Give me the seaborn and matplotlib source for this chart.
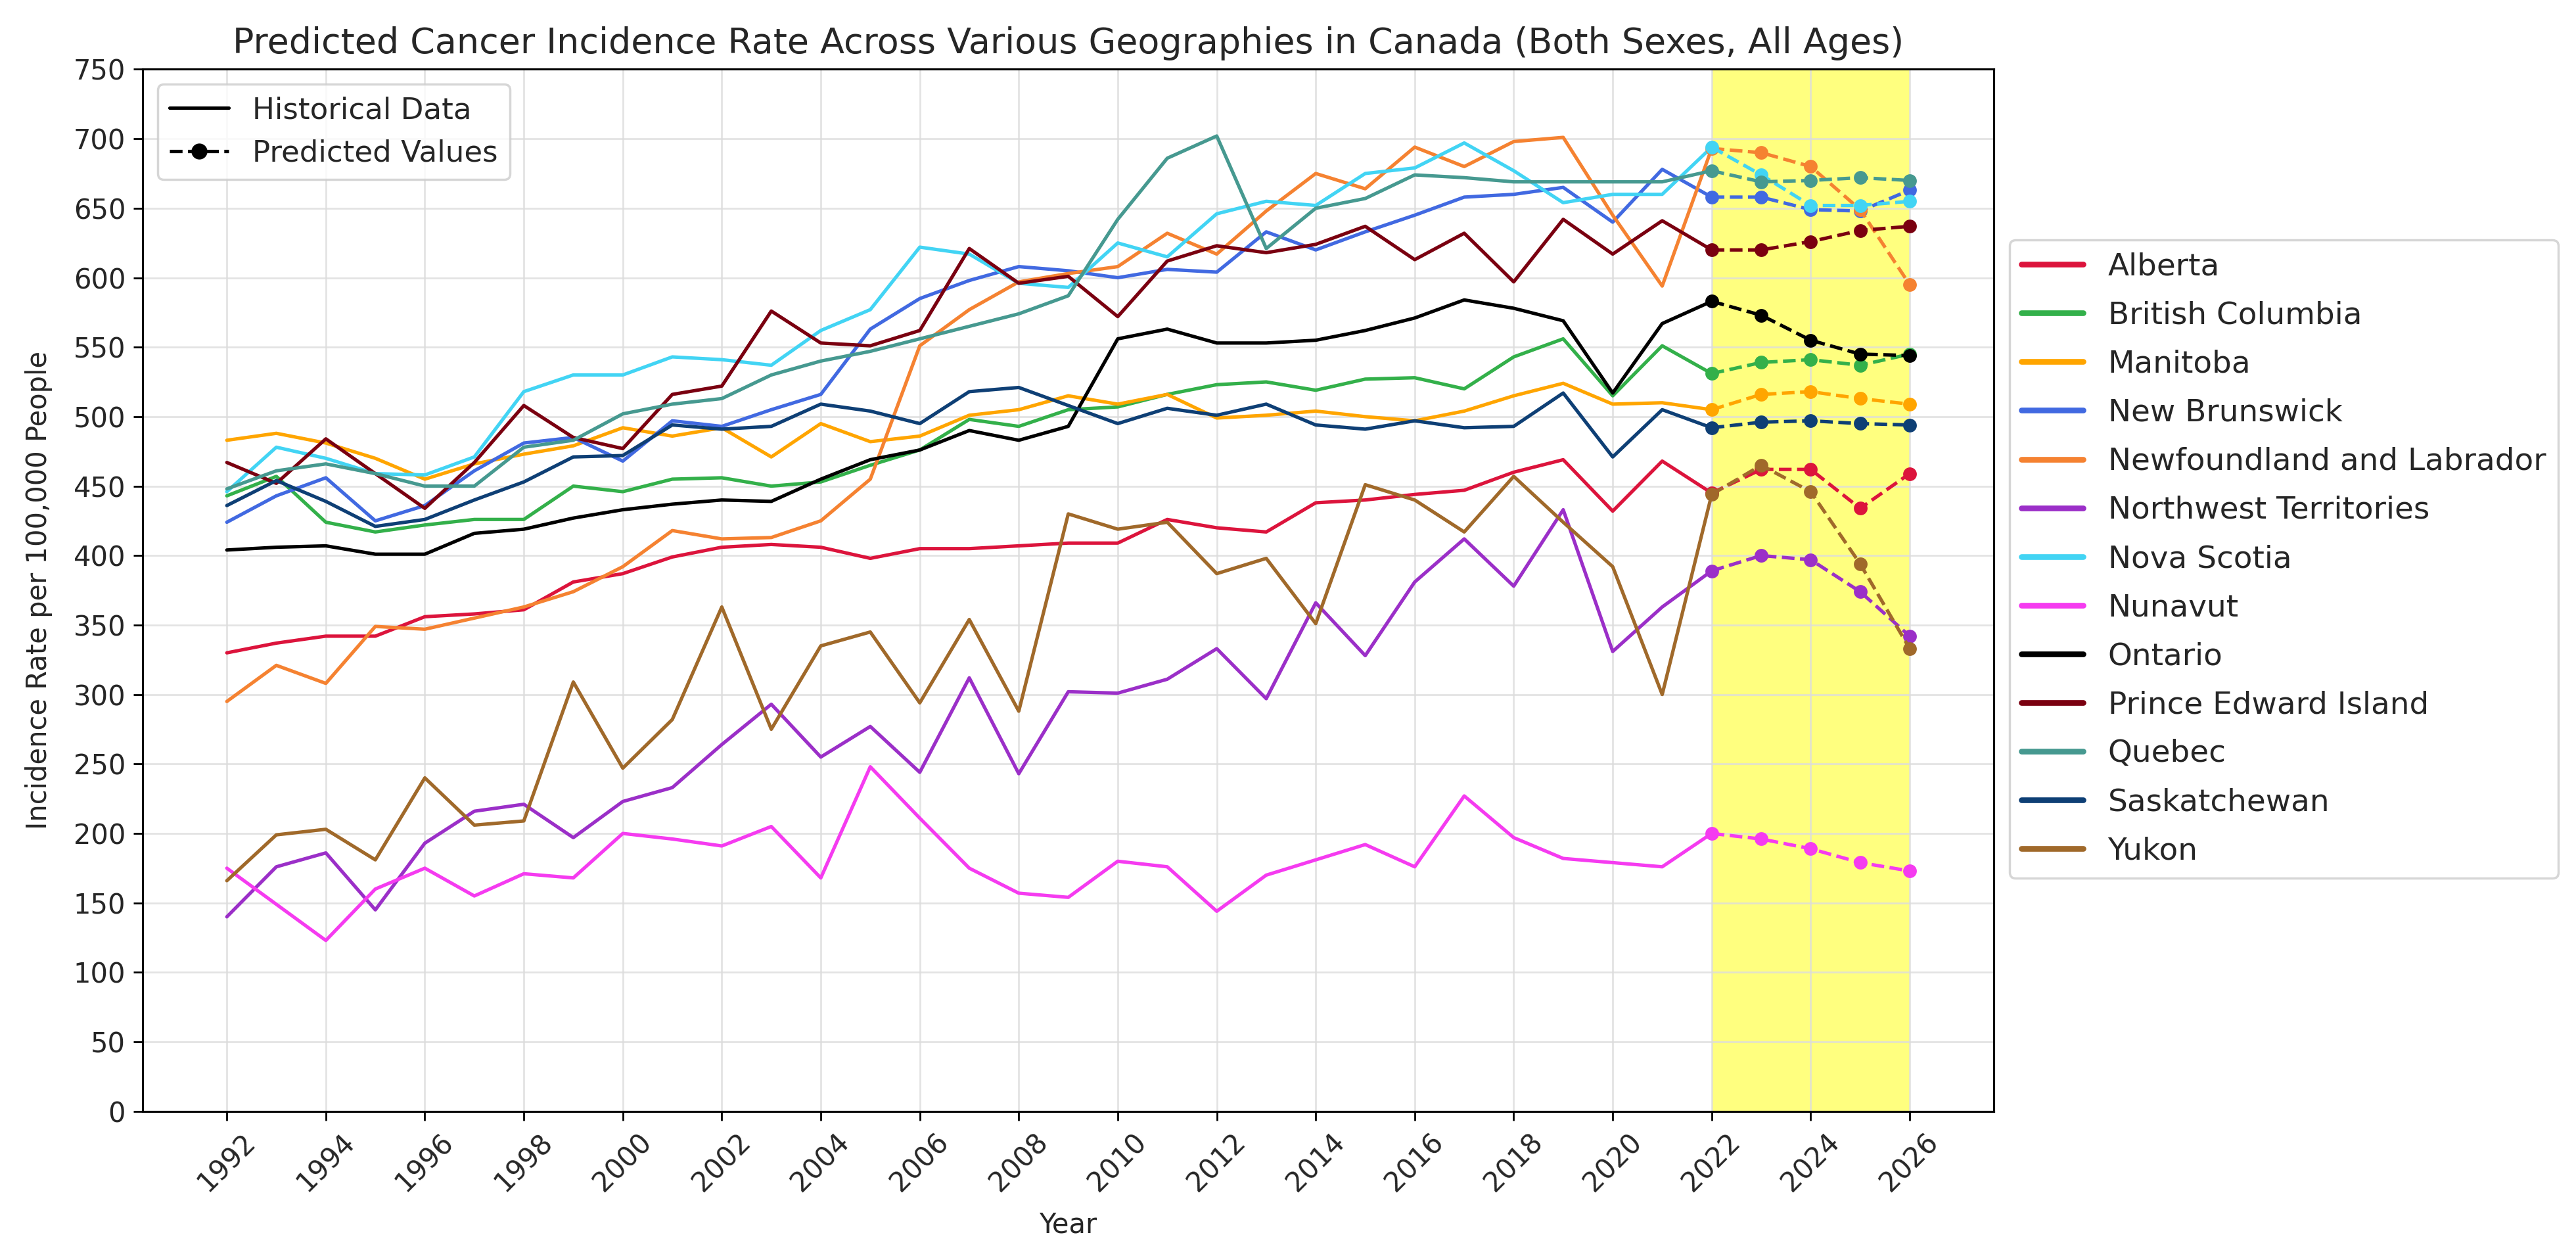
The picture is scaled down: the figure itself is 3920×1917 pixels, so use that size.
import numpy as np
import pandas as pd
import matplotlib
matplotlib.use("Agg")
import matplotlib.pyplot as plt
from matplotlib.lines import Line2D
import seaborn as sns

regions = ["Alberta", "British Columbia", "Manitoba", "New Brunswick",
           "Newfoundland and Labrador", "Northwest Territories", "Nova Scotia",
           "Nunavut", "Ontario", "Prince Edward Island", "Quebec",
           "Saskatchewan", "Yukon"]

colors = ["#DC143C", "#33B04A", "#FFA500", "#4169E1", "#F58231", "#9B2FC8",
          "#42D4F4", "#F53BF0", "#000000", "#7A0010", "#469990", "#0E3F75",
          "#A0692A"]

hist_years = list(range(1992, 2023))
pred_years = list(range(2022, 2027))

alberta = [330, 337, 342, 342, 356, 358, 361, 381, 387, 399, 406, 408, 406, 398, 405, 405,
           407, 409, 409, 426, 420, 417, 438, 440, 444, 447, 460, 469, 432, 468, 445]
british_columbia = [443, 457, 424, 417, 422, 426, 426, 450, 446, 455, 456, 450, 453, 465, 476, 498,
                    493, 505, 507, 516, 523, 525, 519, 527, 528, 520, 543, 556, 515, 551, 531]
manitoba = [483, 488, 481, 470, 455, 466, 473, 479, 492, 486, 492, 471, 495, 482, 486, 501,
            505, 515, 509, 516, 499, 501, 504, 500, 497, 504, 515, 524, 509, 510, 505]
new_brunswick = [424, 443, 456, 425, 436, 461, 481, 485, 468, 497, 493, 505, 516, 563, 585, 598,
                 608, 605, 600, 606, 604, 633, 620, 633, 645, 658, 660, 665, 640, 678, 658]
newfoundland = [295, 321, 308, 349, 347, 355, 363, 374, 392, 418, 412, 413, 425, 455, 551, 577,
                597, 603, 608, 632, 617, 648, 675, 664, 694, 680, 698, 701, 645, 594, 693]
northwest_territories = [140, 176, 186, 145, 193, 216, 221, 197, 223, 233, 264, 293, 255, 277, 244, 312,
                         243, 302, 301, 311, 333, 297, 366, 328, 381, 412, 378, 433, 331, 363, 389]
nova_scotia = [446, 478, 470, 459, 458, 471, 518, 530, 530, 543, 541, 537, 562, 577, 622, 617,
               596, 593, 625, 615, 646, 655, 652, 675, 679, 697, 677, 654, 660, 660, 694]
nunavut = [175, 149, 123, 160, 175, 155, 171, 168, 200, 196, 191, 205, 168, 248, 211, 175,
           157, 154, 180, 176, 144, 170, 181, 192, 176, 227, 197, 182, 179, 176, 200]
ontario = [404, 406, 407, 401, 401, 416, 419, 427, 433, 437, 440, 439, 455, 469, 476, 490,
           483, 493, 556, 563, 553, 553, 555, 562, 571, 584, 578, 569, 517, 567, 583]
prince_edward_island = [467, 452, 484, 459, 434, 467, 508, 485, 477, 516, 522, 576, 553, 551, 562, 621,
                        596, 601, 572, 612, 623, 618, 624, 637, 613, 632, 597, 642, 617, 641, 620]
quebec = [448, 461, 466, 459, 450, 450, 478, 483, 502, 509, 513, 530, 540, 547, 556, 565,
          574, 587, 642, 686, 702, 621, 650, 657, 674, 672, 669, 669, 669, 669, 677]
saskatchewan = [436, 454, 439, 421, 426, 440, 453, 471, 472, 494, 491, 493, 509, 504, 495, 518,
                521, 508, 495, 506, 501, 509, 494, 491, 497, 492, 493, 517, 471, 505, 492]
yukon = [166, 199, 203, 181, 240, 206, 209, 309, 247, 282, 363, 275, 335, 345, 294, 354,
         288, 430, 419, 424, 387, 398, 351, 451, 440, 417, 457, 424, 392, 300, 444]

pred_alberta = [445, 462, 462, 434, 459]
pred_british_columbia = [531, 539, 541, 537, 545]
pred_manitoba = [505, 516, 518, 513, 509]
pred_new_brunswick = [658, 658, 649, 648, 663]
pred_newfoundland = [693, 690, 680, 649, 595]
pred_northwest_territories = [389, 400, 397, 374, 342]
pred_nova_scotia = [694, 674, 652, 652, 655]
pred_nunavut = [200, 196, 189, 179, 173]
pred_ontario = [583, 573, 555, 545, 544]
pred_prince_edward_island = [620, 620, 626, 634, 637]
pred_quebec = [677, 669, 670, 672, 670]
pred_saskatchewan = [492, 496, 497, 495, 494]
pred_yukon = [444, 465, 446, 394, 333]

hist_series = [alberta, british_columbia, manitoba, new_brunswick, newfoundland,
               northwest_territories, nova_scotia, nunavut, ontario,
               prince_edward_island, quebec, saskatchewan, yukon]
pred_series = [pred_alberta, pred_british_columbia, pred_manitoba, pred_new_brunswick,
               pred_newfoundland, pred_northwest_territories, pred_nova_scotia,
               pred_nunavut, pred_ontario, pred_prince_edward_island, pred_quebec,
               pred_saskatchewan, pred_yukon]

hist_df = pd.DataFrame([(r, y, v) for r, vals in zip(regions, hist_series)
                        for y, v in zip(hist_years, vals)],
                       columns=["Region", "Year", "Rate"])
pred_df = pd.DataFrame([(r, y, v) for r, vals in zip(regions, pred_series)
                        for y, v in zip(pred_years, vals)],
                       columns=["Region", "Year", "Rate"])
palette = dict(zip(regions, colors))

sns.set_style("white")
plt.rcParams['font.family'] = ['DejaVu Sans']

fig = plt.figure(figsize=(15.68, 7.668), dpi=250)
ax = fig.add_axes([0.0554, 0.118, 0.7186, 0.827])

ax.axvspan(2022, 2026, color="yellow", alpha=0.5, lw=0, zorder=0)

sns.lineplot(data=hist_df, x="Year", y="Rate", hue="Region", hue_order=regions,
             palette=palette, linewidth=1.5, legend=False, ax=ax, zorder=2)
for r in regions:
    sub = pred_df[pred_df["Region"] == r]
    sns.lineplot(data=sub, x="Year", y="Rate", color=palette[r], linestyle="--",
                 marker="o", markersize=6, markeredgewidth=0, linewidth=1.5,
                 legend=False, ax=ax, zorder=3)

ax.set_xlim(1990.3, 2027.7)
ax.set_ylim(0, 750)
ax.set_xticks(list(range(1992, 2027, 2)))
ax.set_xticklabels([str(y) for y in range(1992, 2027, 2)], rotation=45, fontsize=12)
ax.set_yticks(list(range(0, 751, 50)))
ax.tick_params(axis="y", labelsize=12)
ax.tick_params(axis="both", which="major", length=4, width=0.8, color="black",
               bottom=True, left=True)
ax.grid(True, color="#dcdcdc", linewidth=0.8, alpha=0.8)
ax.set_axisbelow(True)
for s in ax.spines.values():
    s.set_color("black")
    s.set_linewidth(0.9)

ax.set_title("Predicted Cancer Incidence Rate Across Various Geographies in Canada (Both Sexes, All Ages)",
             fontsize=15.5, pad=7)
ax.set_xlabel("Year", fontsize=12, labelpad=6)
ax.set_ylabel("Incidence Rate per 100,000 People", fontsize=12, labelpad=9)

style_handles = [Line2D([0], [0], color="black", lw=1.5, linestyle="-"),
                 Line2D([0], [0], color="black", lw=1.5, linestyle="--", marker="o", markersize=6)]
leg1 = ax.legend(style_handles, ["Historical Data", "Predicted Values"],
                 loc="upper left", fontsize=13, framealpha=0.8)
ax.add_artist(leg1)

region_handles = [Line2D([0], [0], color=c, lw=2.5) for c in colors]
ax.legend(region_handles, regions, loc="center left", bbox_to_anchor=(1.0, 0.53),
          fontsize=13.5, labelspacing=0.62, framealpha=0.8)

fig.savefig("out.png", dpi=250)
